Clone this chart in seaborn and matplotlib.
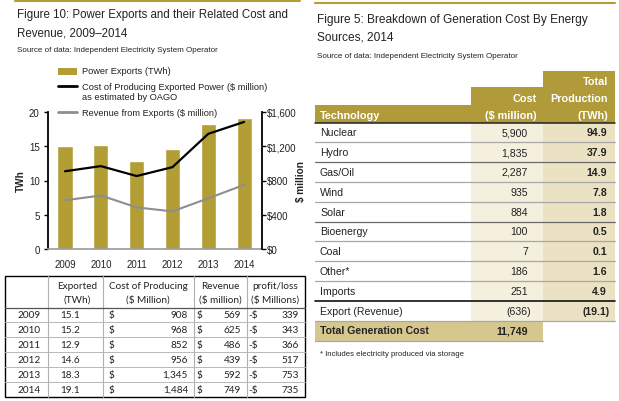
import matplotlib
matplotlib.use("Agg")
import matplotlib.pyplot as plt
import seaborn as sns
import numpy as np
import pandas as pd
from matplotlib.patches import Rectangle

# ---------------- data ----------------
years = ["2009", "2010", "2011", "2012", "2013", "2014"]
exported_twh = [15.1, 15.2, 12.9, 14.6, 18.3, 19.1]
cost_musd = [908, 968, 852, 956, 1345, 1484]
revenue_musd = [569, 625, 486, 439, 592, 749]
loss_musd = [339, 343, 366, 517, 753, 735]

twh_ticks = [0, 5, 10, 15, 20]
usd_ticks = [0, 400, 800, 1200, 1600]
usd_tick_labels = ["$0", "$400", "$800", "$1,200", "$1,600"]

legend_labels = ["Power Exports (TWh)",
                 "Cost of Producing Exported Power ($ million)",
                 "as estimated by OAGO",
                 "Revenue from Exports ($ million)"]

technologies = ["Nuclear", "Hydro", "Gas/Oil", "Wind", "Solar", "Bioenergy",
                "Coal", "Other*", "Imports", "Export (Revenue)"]
tech_cost = [5900, 1835, 2287, 935, 884, 100, 7, 186, 251, -636]
tech_twh = [94.9, 37.9, 14.9, 7.8, 1.8, 0.5, 0.1, 1.6, 4.9, -19.1]
total_generation_cost = 11749

# ---------------- style ----------------
sns.set_theme(style="white")
plt.rcParams["font.family"] = ["Liberation Sans", "DejaVu Sans"]
TXT = "#222222"
GOLD = "#B39D35"
HEAD_GOLD = "#B09A3A"
LIGHT1 = "#F4F0DD"
LIGHT2 = "#EAE2C2"
TOTAL_GOLD = "#D6C78F"
GRAYLINE = "#8e8e8e"

W, H = 619, 402
fig = plt.figure(figsize=(W / 100, H / 100), dpi=100)

def fx(x):
    return x / W

def fy(y):
    return 1 - y / H

# overlay axes in pixel coordinates for titles / tables / legend
ov = fig.add_axes([0, 0, 1, 1])
ov.set_xlim(0, W)
ov.set_ylim(H, 0)
ov.axis("off")

# ---------------- chart ----------------
ax = fig.add_axes([fx(48), fy(250), fx(262) - fx(48), fy(113) - fy(250)])
df = pd.DataFrame({"year": years, "twh": exported_twh})
sns.barplot(data=df, x="year", y="twh", color=GOLD, saturation=1, width=0.42, ax=ax)
ax.set_xlim(-0.475, 5.5)
ax.set_ylim(0, 20)
ax.set_yticks(twh_ticks)
ax.set_xlabel("")
ax.set_ylabel("TWh", fontsize=7.2, fontweight="bold", color=TXT, labelpad=2)
for s in ["top", "right"]:
    ax.spines[s].set_visible(False)
ax.spines["left"].set_color("black")
ax.spines["left"].set_linewidth(1.3)
ax.spines["bottom"].set_color("#9a9a9a")
ax.spines["bottom"].set_linewidth(1.2)
ax.tick_params(axis="y", left=True, length=3, width=1, color="black",
               labelsize=7, labelcolor=TXT, pad=3)
ax.tick_params(axis="x", bottom=False, labelsize=7, labelcolor=TXT, pad=1.5)
ax.set_facecolor("none")

ax2 = ax.twinx()
xpos = np.arange(len(years))
sns.lineplot(x=xpos, y=cost_musd, color="black", linewidth=1.6, ax=ax2)
sns.lineplot(x=xpos, y=revenue_musd, color=GRAYLINE, linewidth=1.5, ax=ax2)
ax2.set_ylim(0, 1600)
ax2.set_yticks(usd_ticks)
ax2.set_yticklabels(usd_tick_labels)
ax2.set_ylabel("$ million", fontsize=7.2, fontweight="bold", color=TXT, labelpad=0)
for s in ["top", "left", "bottom"]:
    ax2.spines[s].set_visible(False)
ax2.spines["right"].set_color("black")
ax2.spines["right"].set_linewidth(1.3)
ax2.tick_params(axis="y", right=True, length=3, width=1, color="black",
                labelsize=7, labelcolor=TXT, pad=0.5)

# legend (drawn in pixel space)
lfs = 6.7
ov.add_patch(Rectangle((58, 68.5), 19, 7, facecolor=GOLD, edgecolor="none"))
ov.plot([58, 77], [87, 87], color="black", linewidth=2)
ov.plot([58, 77], [113, 113], color=GRAYLINE, linewidth=2)
for txt, yv in zip(legend_labels, [72, 87, 97, 113]):
    ov.text(82, yv, txt, fontsize=lfs, color=TXT, ha="left", va="center")

# ---------------- left titles ----------------
ov.plot([15, 300], [2, 2], color=GOLD, linewidth=1.5)
ov.text(17, 15, "Figure 10: Power Exports and their Related Cost and", fontsize=8.3,
        color=TXT, va="center", ha="left")
ov.text(17, 33, "Revenue, 2009\u20132014", fontsize=8.3, color=TXT, va="center", ha="left")
ov.text(17, 51, "Source of data: Independent Electricity System Operator", fontsize=5.8,
        color=TXT, va="center", ha="left")

# ---------------- left table ----------------
tf = ["Lato", "DejaVu Sans"]
tfs = 7.2
x0, x1, y0, y1 = 5, 305, 277, 398
ov.add_patch(Rectangle((x0, y0), x1 - x0, y1 - y0, fill=False, edgecolor="black", linewidth=1))
for xv in [48, 103, 194, 247]:
    ov.plot([xv, xv], [y0, y1], color="#b0b0b0", linewidth=0.8)
hdr_bottom = 308.5
ov.plot([x0, x1], [hdr_bottom, hdr_bottom], color="#555555", linewidth=0.9)
row_h = (y1 - hdr_bottom) / len(years)
for i in range(1, len(years)):
    yy = hdr_bottom + i * row_h
    ov.plot([x0, x1], [yy, yy], color="#b8b8b8", linewidth=0.7)

hdr = [("Exported", "(TWh)", 77), ("Cost of Producing", "($ Million)", 148),
       ("Revenue", "($ million)", 220), ("profit/loss", "($ Millions)", 275)]
for a, b, xc in hdr:
    ov.text(xc, 287, a, family=tf, fontsize=tfs, ha="center", va="center", color=TXT)
    ov.text(xc, 300, b, family=tf, fontsize=tfs, ha="center", va="center", color=TXT)

for i, yr in enumerate(years):
    yc = hdr_bottom + (i + 0.5) * row_h
    ov.text(29, yc, yr, family=tf, fontsize=tfs, ha="center", va="center", color=TXT)
    ov.text(70, yc, f"{exported_twh[i]:.1f}", family=tf, fontsize=tfs, ha="center", va="center", color=TXT)
    ov.text(109, yc, "$", family=tf, fontsize=tfs, ha="left", va="center", color=TXT)
    ov.text(188, yc, f"{cost_musd[i]:,}", family=tf, fontsize=tfs, ha="right", va="center", color=TXT)
    ov.text(197, yc, "$", family=tf, fontsize=tfs, ha="left", va="center", color=TXT)
    ov.text(241, yc, f"{revenue_musd[i]:,}", family=tf, fontsize=tfs, ha="right", va="center", color=TXT)
    ov.text(248, yc, "-$", family=tf, fontsize=tfs, ha="left", va="center", color=TXT)
    ov.text(299, yc, f"{loss_musd[i]:,}", family=tf, fontsize=tfs, ha="right", va="center", color=TXT)

# ---------------- right titles ----------------
ov.plot([315, 615], [4, 4], color=GOLD, linewidth=1.5)
ov.text(317, 20, "Figure 5: Breakdown of Generation Cost By Energy", fontsize=8.6,
        color=TXT, va="center", ha="left")
ov.text(317, 38, "Sources, 2014", fontsize=8.6, color=TXT, va="center", ha="left")
ov.text(317, 56, "Source of data: Independent Electricity System Operator", fontsize=5.8,
        color=TXT, va="center", ha="left")

# ---------------- right table ----------------
cx0, cx1, cx2, cx3 = 315, 471, 543, 615
hb = 123.5
ov.add_patch(Rectangle((cx2, 72), cx3 - cx2, hb - 72, facecolor=HEAD_GOLD, edgecolor="none"))
ov.add_patch(Rectangle((cx1, 88), cx2 - cx1, hb - 88, facecolor=HEAD_GOLD, edgecolor="none"))
ov.add_patch(Rectangle((cx0, 106), cx1 - cx0, hb - 106, facecolor=HEAD_GOLD, edgecolor="none"))
hfs = 7.8
ov.text(608, 82, "Total", fontsize=hfs, fontweight="bold", color="white", ha="right", va="center")
ov.text(608, 99, "Production", fontsize=hfs, fontweight="bold", color="white", ha="right", va="center")
ov.text(608, 116, "(TWh)", fontsize=hfs, fontweight="bold", color="white", ha="right", va="center")
ov.text(537, 99, "Cost", fontsize=hfs, fontweight="bold", color="white", ha="right", va="center")
ov.text(537, 116, "($ million)", fontsize=hfs, fontweight="bold", color="white", ha="right", va="center")
ov.text(320, 116, "Technology", fontsize=hfs, fontweight="bold", color="white", ha="left", va="center")

rh = 19.8
n = len(technologies)
ov.add_patch(Rectangle((cx1, hb), cx2 - cx1, n * rh, facecolor=LIGHT1, edgecolor="none"))
ov.add_patch(Rectangle((cx2, hb), cx3 - cx2, n * rh, facecolor=LIGHT2, edgecolor="none"))
ov.plot([cx0, cx3], [hb + 0.5, hb + 0.5], color="#222222", linewidth=1.1)
for i in range(1, n):
    yy = hb + i * rh
    if i == 9:
        ov.plot([cx0, cx3], [yy, yy], color="#111111", linewidth=1.2)
    elif i in {2, 5}:
        ov.plot([cx0, cx3], [yy, yy], color="#6a6a6a", linewidth=0.9)
    else:
        ov.plot([cx0, cx3], [yy, yy], color="#a8a8a8", linewidth=0.9)
dfs = 7.6
for i, name in enumerate(technologies):
    yc = hb + (i + 0.5) * rh
    c = tech_cost[i]
    cstr = f"({abs(c):,})" if c < 0 else f"{c:,}"
    t = tech_twh[i]
    tstr = f"({abs(t):.1f})" if t < 0 else f"{t:.1f}"
    ov.text(320, yc, name, fontsize=dfs, color=TXT, ha="left", va="center")
    ov.text(528 if c >= 0 else 531, yc, cstr, fontsize=dfs, color=TXT, ha="right", va="center")
    ov.text(607 if t >= 0 else 610, yc, tstr, fontsize=dfs, fontweight="bold", color=TXT,
            ha="right", va="center")

ty = hb + n * rh
ov.plot([cx0, cx3], [ty, ty], color="#a8a8a8", linewidth=0.9)
ov.add_patch(Rectangle((cx0, ty), cx2 - cx0, 20, facecolor=TOTAL_GOLD, edgecolor="none"))
ov.plot([cx0, cx2], [ty + 20, ty + 20], color="#a8a8a8", linewidth=0.9)
ov.text(320, ty + 10, "Total Generation Cost", fontsize=dfs, fontweight="bold", color=TXT,
        ha="left", va="center")
ov.text(528, ty + 10, f"{total_generation_cost:,}", fontsize=dfs, fontweight="bold", color=TXT,
        ha="right", va="center")
ov.text(320, 355, "* Includes electricity produced via storage", fontsize=5.6, color=TXT,
        ha="left", va="center")

fig.savefig("out.png", dpi=100)
